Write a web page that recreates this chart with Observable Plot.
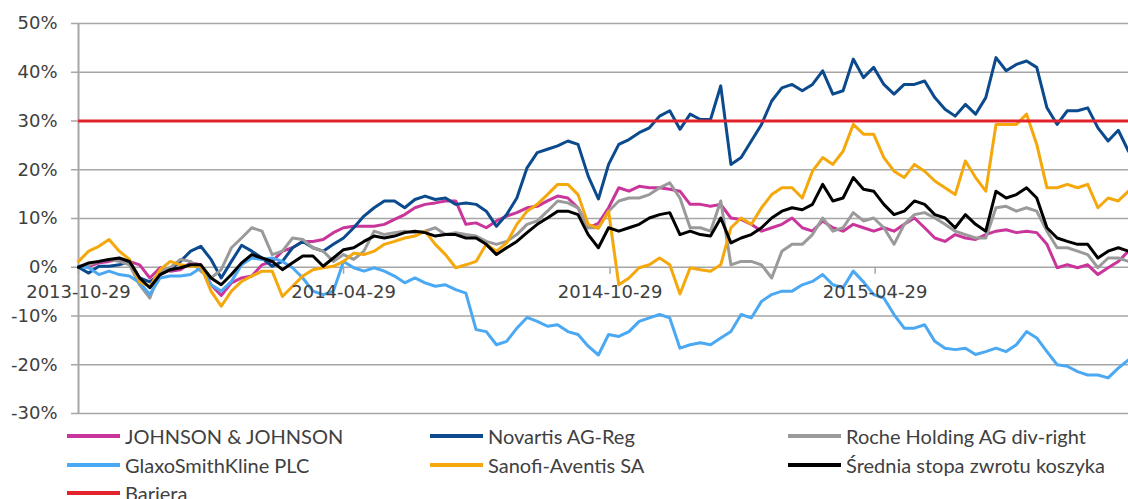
<!DOCTYPE html>
<html><head><meta charset="utf-8">
<script src="https://cdn.jsdelivr.net/npm/d3@7"></script>
<script src="https://cdn.jsdelivr.net/npm/@observablehq/plot@0.6"></script>
<style>
body{margin:0;background:#fff;}
#chart{position:relative;width:1128px;height:499px;overflow:hidden;background:#fff}
.legend{position:absolute;left:0;top:420px;width:1128px;height:79px;font-family:Lato,"Open Sans",sans-serif;font-size:20px;color:#404040}
.item{position:absolute;display:flex;align-items:center;white-space:nowrap;height:29px}
.sw{width:53px;height:4px;margin-right:5px}
</style></head>
<body><div id="chart"></div>
<script>
// weekly observation dates (Tuesdays) from 2013-10-29 to 2015-10-20
const dates = d3.utcTuesday.range(new Date("2013-10-29"), new Date("2015-10-21"));
const xTicks = ["2013-10-29", "2014-04-29", "2014-10-29", "2015-04-29"];
const yTicks = [-30, -20, -10, 0, 10, 20, 30, 40, 50];

const jnj = [0, 0.2, 0.9, 1.2, 1.6, 1.2, 0.5, -2.2, -0.1, -0.8, -0.5, 0.9, 0.5, -3.6, -5.8, -3.2, -2.2, -1.8, 0.5, 1.2, 3.3, 4.0, 5.3, 5.3, 5.7, 7.1, 8.1,
  8.4, 8.4, 8.4, 8.8, 9.8, 10.8, 12.2, 12.9, 13.2, 13.6, 13.6, 8.8, 9.1, 8.1, 9.5, 10.5, 11.2, 12.2, 12.5, 13.6, 14.6, 14.2, 12.2, 8.1, 9.0,
  12.2, 16.3, 15.6, 16.6, 16.3, 16.3, 16.0, 15.6, 12.9, 12.9, 12.5, 12.9, 10.1, 9.8, 8.8, 7.4, 8.1, 8.8, 10.1, 8.1, 7.4, 9.5, 8.1, 7.4, 8.8, 8.1,
  7.4, 8.1, 7.4, 8.8, 10.1, 8.1, 6.0, 5.3, 6.7, 6.0, 5.7, 6.7, 7.4, 7.7, 7.1, 7.4, 7.1, 4.7, -0.1, 0.5, -0.1, 0.5, -1.5, -0.1, 1.2, 3.3];
const novartis = [0, -1.2, 0.2, 0.2, 0.5, 1.2, -2.2, -3.0, -1.5, -0.5, 1.2, 3.3, 4.3, 1.6, -2.2, 1.2, 4.5, 3.3, 1.9, 0.2, 1.2, 4.0, 5.3, 4.0, 3.3, 4.7, 6.0,
  8.1, 10.5, 12.2, 13.6, 13.6, 12.2, 13.9, 14.6, 13.9, 14.2, 12.9, 13.2, 12.9, 11.5, 8.4, 10.8, 14.2, 20.4, 23.5, 24.2, 24.9, 25.9, 25.2, 18.7, 14.0,
  21.1, 25.2, 26.2, 27.6, 28.6, 31.0, 32.1, 28.3, 31.4, 30.3, 30.3, 37.2, 21.1, 22.5, 25.9, 29.3, 34.1, 36.8, 37.5, 36.2, 37.5, 40.3, 35.5, 36.2, 42.7, 38.9,
  41.0, 37.5, 35.5, 37.5, 37.5, 38.2, 34.8, 32.4, 31.0, 33.4, 31.4, 34.8, 43.0, 40.3, 41.6, 42.3, 41.0, 32.7, 29.3, 32.1, 32.1, 32.7, 28.6, 25.9, 28.1, 23.8];
const roche = [0.2, 0.5, 1.2, 1.6, 1.2, 0.5, -3.6, -6.3, -0.8, -0.1, 1.6, 1.2, -0.8, -2.2, -0.5, 4.0, 6.0, 8.1, 7.4, 2.6, 3.3, 6.0, 5.7, 4.0, 3.3, 1.2, 2.6,
  1.6, 3.3, 7.4, 6.7, 7.1, 7.4, 7.1, 7.4, 8.1, 6.7, 7.1, 6.7, 6.4, 5.3, 4.7, 5.3, 6.7, 8.8, 9.5, 11.5, 13.6, 13.2, 12.2, 8.1, 8.1,
  11.5, 13.6, 14.2, 14.2, 14.9, 16.3, 17.3, 14.2, 8.1, 8.1, 7.4, 13.6, 0.5, 1.2, 1.2, 0.5, -2.2, 3.3, 4.7, 4.7, 6.7, 10.1, 7.4, 8.1, 11.2, 9.5,
  10.1, 8.1, 4.7, 8.8, 10.8, 11.2, 10.1, 8.8, 7.4, 6.7, 6.0, 6.0, 12.2, 12.5, 11.5, 12.2, 11.5, 7.4, 4.0, 4.0, 3.3, 2.6, -0.1, 1.9, 1.9, 1.2];
const glaxo = [0.2, -0.1, -1.5, -0.8, -1.5, -1.8, -3.2, -5.6, -2.2, -1.8, -1.8, -1.5, -0.1, -3.6, -4.9, -2.9, 0.5, 1.9, 1.6, 1.9, 1.2, -0.1, -2.2, -4.9, -5.6, -4.9, 1.2,
  -0.1, -0.8, -0.1, -0.8, -1.8, -3.2, -2.2, -3.2, -3.9, -3.6, -4.6, -5.3, -12.8, -13.2, -15.9, -15.2, -12.5, -10.3, -11.1, -12.1, -11.8, -13.2, -13.8, -16.2, -18.0,
  -13.8, -14.2, -13.2, -11.1, -10.4, -9.7, -10.4, -16.6, -15.9, -15.5, -15.9, -14.5, -13.2, -9.7, -10.4, -7.0, -5.6, -4.9, -4.9, -3.6, -2.9, -1.5, -3.6, -4.2, -0.8, -3.0,
  -5.6, -6.3, -9.7, -12.5, -12.5, -11.8, -15.2, -16.6, -16.9, -16.6, -17.9, -17.3, -16.6, -17.3, -15.9, -13.2, -14.5, -17.3, -20.0, -20.3, -21.4, -22.1, -22.1, -22.7, -20.7, -19.0];
const sanofi = [1.2, 3.3, 4.3, 5.7, 3.3, 1.6, -3.0, -4.0, -0.5, 1.2, 0.5, 0.2, 0.2, -4.9, -8.0, -4.9, -2.9, -1.8, -0.8, -0.8, -6.0, -3.9, -1.8, -0.5, -0.1, 0.2, 1.2,
  2.9, 2.6, 3.3, 4.7, 5.3, 6.0, 6.4, 7.4, 4.7, 2.6, -0.1, 0.5, 1.2, 4.7, 3.3, 5.0, 8.8, 11.5, 12.9, 14.9, 17.0, 17.0, 14.9, 8.8, 8.0,
  11.5, -3.6, -2.2, -0.1, 0.5, 1.9, 0.5, -5.5, -0.1, -0.5, -0.8, 0.5, 8.1, 10.1, 8.8, 12.2, 14.9, 16.3, 16.3, 14.2, 19.7, 22.5, 21.1, 23.8, 29.3, 27.3,
  27.3, 22.5, 19.7, 18.4, 21.1, 19.7, 17.7, 16.3, 14.9, 21.8, 18.4, 15.6, 29.3, 29.3, 29.3, 31.4, 25.2, 16.3, 16.3, 17.0, 16.3, 17.0, 12.2, 14.2, 13.6, 15.6];
const average = [0, 0.9, 1.2, 1.6, 1.9, 1.2, -2.2, -4.2, -1.5, -0.5, -0.1, 0.5, 0.5, -2.2, -3.6, -1.5, 0.9, 2.6, 1.9, 1.2, -0.5, 0.9, 2.3, 2.3, 0.2, 1.9, 3.6,
  4.0, 5.3, 6.4, 6.0, 6.4, 7.1, 7.4, 7.1, 6.4, 6.7, 6.7, 6.0, 6.0, 4.7, 2.6, 4.0, 5.3, 7.1, 8.8, 10.1, 11.5, 11.5, 10.8, 6.7, 4.0,
  8.1, 7.4, 8.1, 8.8, 10.1, 10.8, 11.2, 6.7, 7.4, 6.7, 6.4, 10.1, 5.0, 6.0, 6.7, 8.1, 10.1, 11.5, 12.2, 11.8, 12.9, 17.0, 13.6, 14.2, 18.4, 16.0,
  15.6, 12.9, 10.8, 11.5, 13.6, 12.9, 10.8, 10.1, 8.1, 10.8, 8.8, 7.4, 15.6, 14.2, 14.9, 16.3, 14.2, 8.1, 6.0, 5.3, 4.7, 4.7, 1.9, 3.3, 4.0, 3.3];
const barrier = [30];

const seriesNames = ["JOHNSON & JOHNSON", "Novartis AG-Reg", "Roche Holding AG div-right", "GlaxoSmithKline PLC", "Sanofi-Aventis SA", "Średnia stopa zwrotu koszyka", "Bariera"];
const seriesColors = ["#c9359a", "#0b4a8c", "#9a9a9a", "#4ba8f2", "#f5a80c", "#000000", "#e3232c"];
const seriesValues = [jnj, novartis, roche, glaxo, sanofi, average];

const gridColor = "#a6a6a6";
const xDomain = [dates[0], dates[dates.length - 1]];

const lineMarks = seriesValues.map((vals, s) =>
  Plot.line(dates.map((d, i) => ({date: d, value: vals[i]})), {x: "date", y: "value", stroke: seriesColors[s], strokeWidth: 3, strokeLinejoin: "round"})
);

const chart = Plot.plot({
  width: 1128, height: 420,
  marginLeft: 78, marginRight: 0, marginTop: 23, marginBottom: 7,
  x: {type: "utc", domain: xDomain, axis: null},
  y: {domain: [-30, 50], axis: null},
  style: {fontFamily: "'DejaVu Sans'", fontSize: "18px", color: "#404040", background: "#fff", overflow: "visible"},
  marks: [
    Plot.gridY(yTicks, {stroke: gridColor, strokeOpacity: 1, strokeWidth: 1.5}),
    Plot.axisY(yTicks, {label: null, tickSize: 7, tickPadding: 14, stroke: gridColor, strokeWidth: 1.5, fill: "#404040", fontSize: 18, tickFormat: d => `${d}%`}),
    Plot.ruleX([xDomain[0]], {stroke: gridColor, strokeWidth: 2}),
    Plot.ruleX(xTicks.map(t => new Date(t)), {x: d => d, y1: 0, y2: 0, insetBottom: -7, stroke: gridColor, strokeWidth: 1.5}),
    ...lineMarks,
    Plot.ruleY(barrier, {stroke: seriesColors[6], strokeWidth: 3}),
    Plot.text(xTicks, {x: d => new Date(d), y: 0, text: d => d, dy: 25, fontSize: 18, fill: "#404040"})
  ]
});

const root = document.getElementById("chart");
root.appendChild(chart);

const legend = document.createElement("div");
legend.className = "legend";
const colX = [67, 430, 788];
const rowY = [1, 30, 58];
seriesNames.forEach((name, i) => {
  const item = document.createElement("div");
  item.className = "item";
  item.style.left = colX[i % 3] + "px";
  item.style.top = rowY[Math.floor(i / 3)] + "px";
  const sw = document.createElement("span");
  sw.className = "sw";
  sw.style.background = seriesColors[i];
  const tx = document.createElement("span");
  tx.textContent = name;
  item.appendChild(sw);
  item.appendChild(tx);
  legend.appendChild(item);
});
root.appendChild(legend);
</script>
</body></html>
